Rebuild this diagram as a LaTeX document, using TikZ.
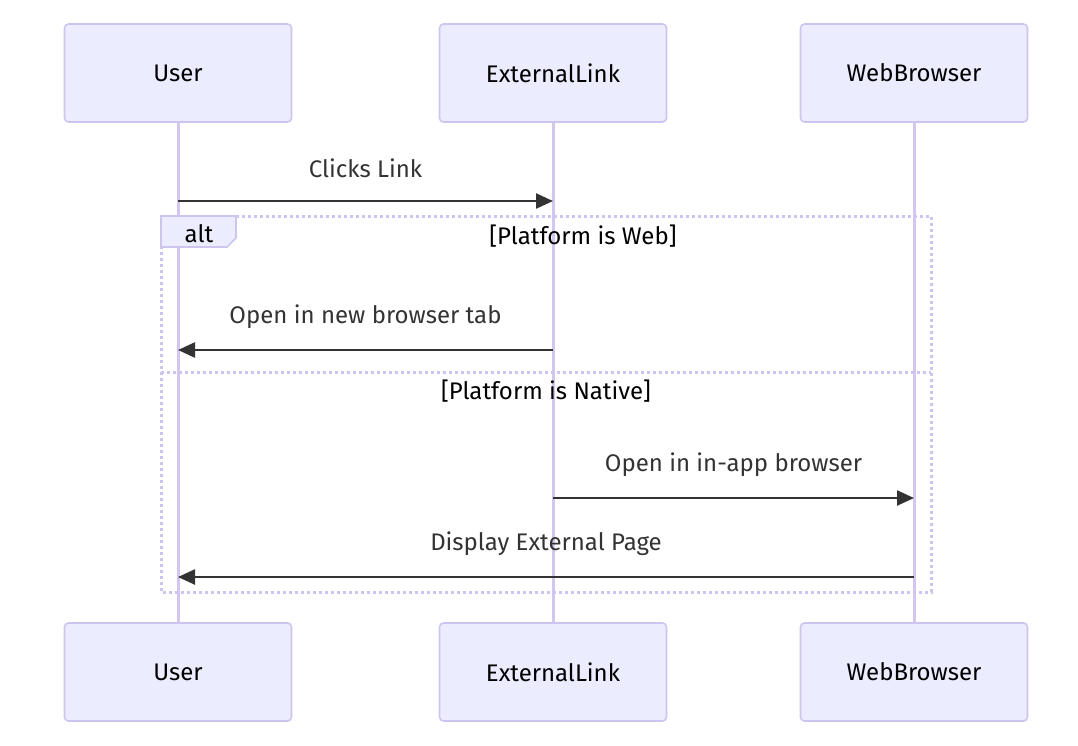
\documentclass[tikz,border=0pt]{standalone}
\usepackage{fontspec}
\setmainfont{Fira Sans}
\usetikzlibrary{positioning,arrows.meta}
\definecolor{actfill}{HTML}{ECECFF}
\definecolor{actline}{HTML}{CEC4F0}
\definecolor{lifeln}{HTML}{D3C6F0}
\definecolor{msgcol}{HTML}{333333}
\begin{document}
\begin{tikzpicture}[x=1pt,y=-1pt]
    \tikzset{actor/.style={draw=actline,line width=1.6pt,fill=actfill,rounded corners=4pt,minimum
        width=227pt,minimum height=98pt,font=\fontsize{24}{28}\selectfont},
      msg/.style={draw=msgcol,line width=2.4pt,-{Triangle[length=17pt,width=15pt]}},
      lbl/.style={text=msgcol,font=\fontsize{24}{28}\selectfont,yshift=33pt},
      frame/.style={draw=actline,line width=3pt,dash pattern=on 3pt off 3pt},
      guard/.style={font=\fontsize{24}{28}\selectfont}}
    \useasboundingbox (0,0) rectangle (1078,745);
    \node[actor] (u1) at (178,73) {User};
    \node[actor] (e1) at (553,73) {ExternalLink};
    \node[actor] (w1) at (914,73) {WebBrowser};
    \node[actor] (u2) at (178,672) {User};
    \node[actor] (e2) at (553,672) {ExternalLink};
    \node[actor] (w2) at (914,672) {WebBrowser};

    % lifelines
    \draw[lifeln,line width=3pt] (u1) -- (u2);
    \draw[lifeln,line width=3pt] (e1) -- (e2);
    \draw[lifeln,line width=3pt] (w1) -- (w2);

    % alt frame
    \draw[frame] (161,216) rectangle (931,592);
    \draw[frame] (161,372) -- (931,372);
    \draw[draw=actline,line width=1.6pt,fill=actfill] (161,216) -- (236,216) -- (236,238)
    -- (227,247) -- (161,247) -- cycle;
    \node[guard] (alt) at (199,234) {alt};
    \node[guard] (g1) at (583,236) {[Platform is Web]};
    \node[guard] (g2) at (546,391) {[Platform is Native]};

    % messages
    \draw[msg] (u1 |- 0,201) -- node[lbl] {Clicks Link} (e1 |- 0,201);
    \draw[msg] (e1 |- 0,350) -- node[lbl] {Open in new browser tab} (u1 |- 0,350);
    \draw[msg] (e1 |- 0,498) -- node[lbl] {Open in in-app browser} (w1 |- 0,498);
    \draw[msg] (w1 |- 0,577) -- node[lbl] {Display External Page} (u1 |- 0,577);
  \end{tikzpicture}
\end{document}
